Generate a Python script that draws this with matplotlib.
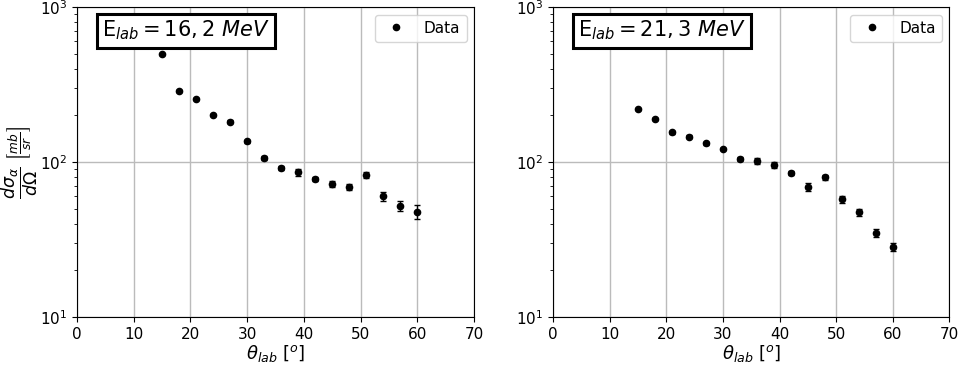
import numpy as np
import matplotlib
matplotlib.use("Agg")
from matplotlib import pyplot as plt

# scattering angles (deg)
theta = [15, 18, 21, 24, 27, 30, 33, 36, 39, 42, 45, 48, 51, 54, 57, 60]

# E_lab = 16,2 MeV
sigma_16 = [495, 287, 255, 201, 182, 136, 106.7, 91.9, 85.8, 77.6, 72.1, 69.0, 82.8, 60.1, 52.2, 47.6]
err_16 = [3, 3, 5, 4, 4, 3, 3, 3, 4, 2, 3, 3, 4, 4, 4, 4.8]

# E_lab = 21,3 MeV
sigma_21 = [218.8, 190, 155, 146, 132, 122, 104.5, 101.5, 96, 84.9, 69.3, 79.7, 57.7, 47.4, 35.0, 28.3]
err_21 = [2, 2, 3, 3, 3, 2, 3, 4, 4, 3, 4, 3, 3, 2.5, 2, 1.6]

labels = [r"E$_{lab} = 16,2\ MeV$", r"E$_{lab} = 21,3\ MeV$"]

fig = plt.figure(figsize=(9.6, 3.69), dpi=100)
ax1 = fig.add_axes([0.080, 0.141, 0.414, 0.840])
ax2 = fig.add_axes([0.576, 0.141, 0.413, 0.840])

for ax, y, e, lab in [(ax1, sigma_16, err_16, labels[0]), (ax2, sigma_21, err_21, labels[1])]:
    ax.errorbar(theta, y, yerr=e, fmt='none', ecolor='black', capsize=2.5, elinewidth=1)
    ax.plot(theta, y, 'o', color='black', markersize=4.5, label='Data')
    ax.set_yscale('log')
    ax.set_ylim(10, 1000)
    ax.set_xlim(0, 70)
    ax.grid(True, which='major', color='#bbbbbb', linewidth=1)
    ax.set_axisbelow(True)
    ax.set_xlabel(r"$\theta_{lab}$ [$^o$]", fontsize=13, labelpad=1)
    ax.tick_params(labelsize=11)
    ax.legend(loc='upper right', fontsize=11)
    ax.text(0.063, 0.962, lab, transform=ax.transAxes, fontsize=15, va='top', ha='left',
            bbox=dict(boxstyle='square,pad=0.25', facecolor='white', edgecolor='black', linewidth=2.2))

ax1.set_ylabel(r"$\dfrac{d\sigma_\alpha}{d\Omega}$ $\left[\frac{mb}{sr}\right]$", fontsize=12.5)
ax1.yaxis.set_label_coords(-0.093, 0.5)

plt.savefig("out.png", dpi=100)
